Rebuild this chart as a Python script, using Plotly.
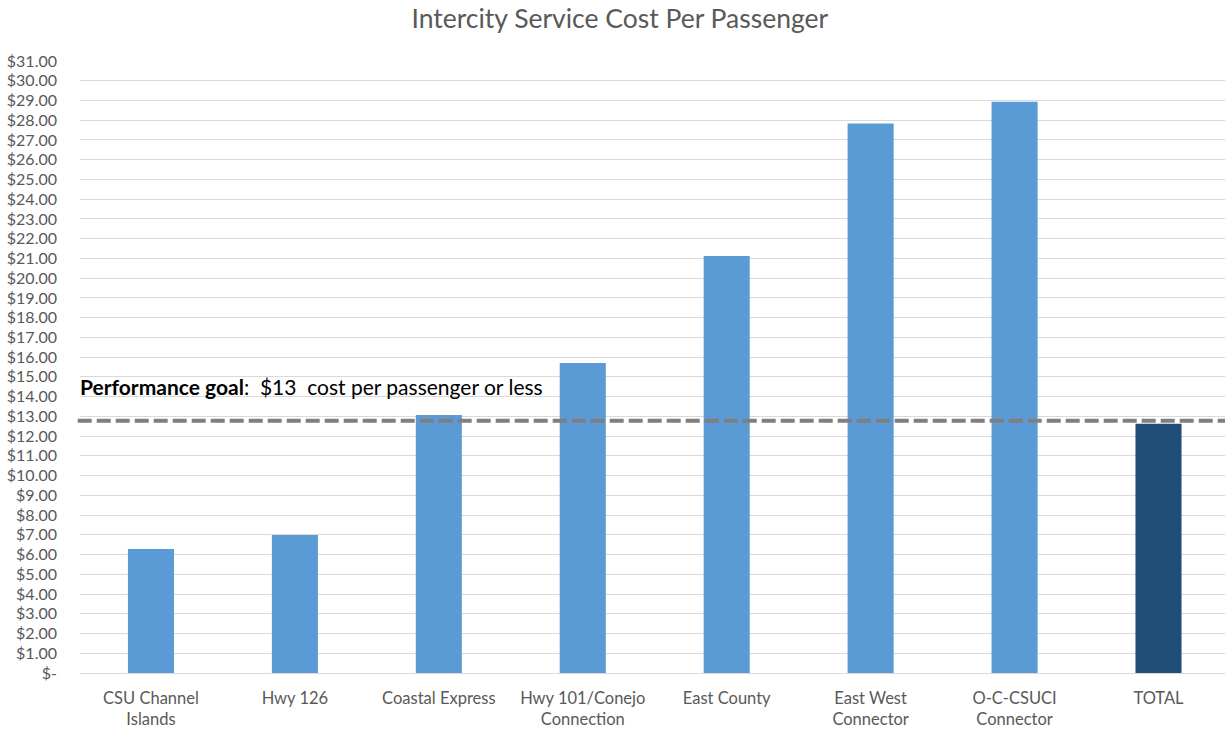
import plotly.graph_objects as go

# Route categories and cost per passenger (USD)
routes = ["CSU Channel<br>Islands", "Hwy 126", "Coastal Express", "Hwy 101/Conejo<br>Connection",
          "East County", "East West<br>Connector", "O-C-CSUCI<br>Connector", "TOTAL"]
cost_per_passenger = [6.28, 6.99, 13.07, 15.70, 21.12, 27.84, 28.94, 12.62]
bar_colors = ["#5B9BD5"] * 7 + ["#1F4E79"]

# Performance goal level drawn as a dashed reference line
goal_level = 12.78

# Y-axis ticks: whole dollars, zero shown as "$-"
y_tickvals = list(range(0, 32))
y_ticktext = ["$-"] + [f"${v:.2f}" for v in y_tickvals[1:]]

FONT = "Lato, 'Open Sans', sans-serif"
GREY = "#595959"

fig = go.Figure()
fig.add_trace(go.Bar(
    x=routes,
    y=cost_per_passenger,
    marker=dict(color=bar_colors, line=dict(width=0)),
    hoverinfo="x+y",
))

fig.add_shape(
    type="line", xref="paper", yref="y",
    x0=-0.002, x1=1.0, y0=goal_level, y1=goal_level,
    line=dict(color="#7F7F7F", width=4, dash="14px,5px"),
    layer="above",
)

fig.add_annotation(
    xref="paper", yref="y", x=-0.002, y=14.5,
    xanchor="left", yanchor="middle", showarrow=False,
    text="<b>Performance goal</b>:  $13  cost per passenger or less",
    font=dict(family=FONT, size=21, color="#000000"),
)

fig.update_layout(
    width=1225, height=733,
    margin=dict(l=80, r=0, t=61, b=60),
    paper_bgcolor="white", plot_bgcolor="white",
    showlegend=False,
    bargap=0.68,
    title=dict(
        text="Intercity Service Cost Per Passenger",
        x=0.506, xanchor="center", y=0.975, yanchor="middle",
        font=dict(family=FONT, size=26.5, color=GREY),
    ),
    font=dict(family=FONT, size=16, color=GREY),
)

fig.update_yaxes(
    range=[0, 31],
    tickvals=y_tickvals, ticktext=y_ticktext,
    showgrid=True, gridcolor="#D9D9D9", gridwidth=1,
    zeroline=True, zerolinecolor="#D9D9D9", zerolinewidth=1,
    showline=False, ticks="", ticklabelstandoff=22,
    tickfont=dict(family=FONT, size=16, color=GREY),
)
fig.update_xaxes(
    range=[-0.493, 7.462],
    showline=False, ticks="", showgrid=False, ticklabelstandoff=13,
    tickfont=dict(family=FONT, size=16.5, color=GREY),
)

fig.write_html("out.html")
